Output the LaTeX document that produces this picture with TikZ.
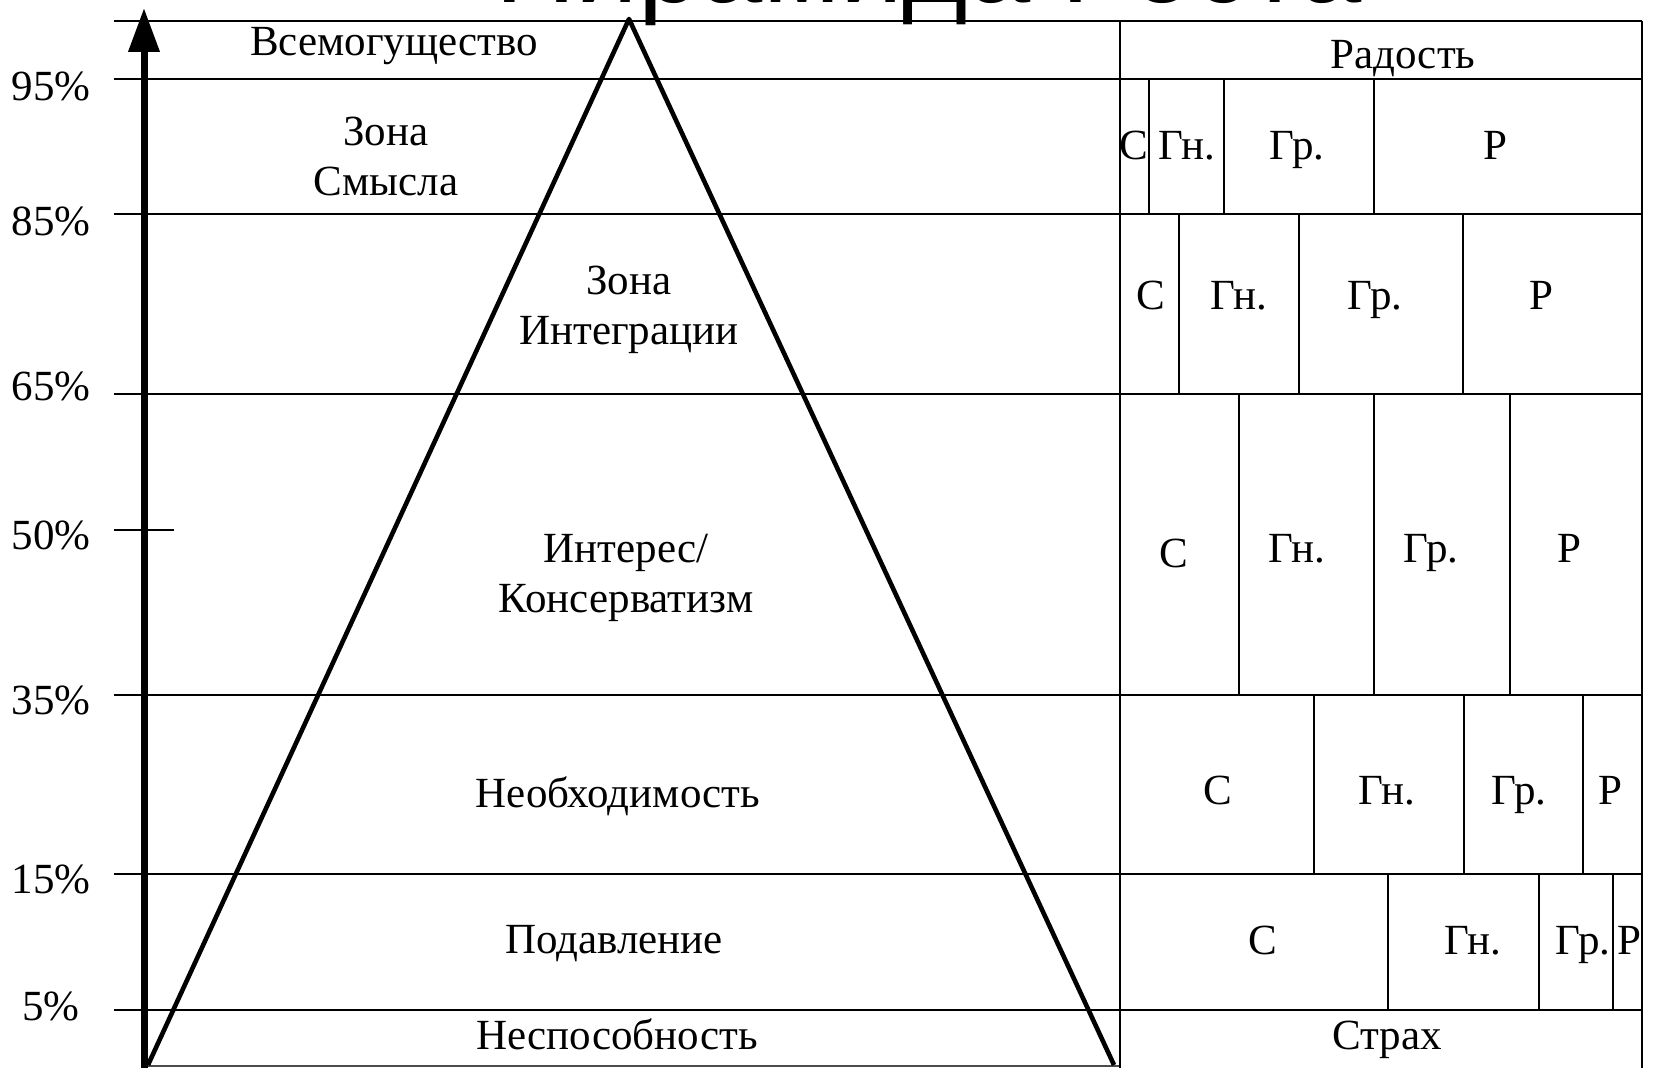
\documentclass[tikz,border=0pt]{standalone}
\usepackage{fontspec}
\setmainfont{Liberation Serif}
\newfontfamily\headfont{Liberation Sans}
\usetikzlibrary{arrows.meta}

\begin{document}
\begin{tikzpicture}[
            x=0.5pt, y=-0.5pt,
            level/.style={
                line width=1pt
            },
            divider/.style={
                line width=1pt
            },
            zone/.style={
                align=center,
                inner sep=0pt,
                font=\fontsize{21.5}{25}\selectfont
            },
            pct/.style={
                inner sep=0pt,
                font=\fontsize{21.5}{25}\selectfont
            },
            cell/.style={
                inner sep=0pt,
                text height=0.66em,
                text depth=0.22em,
                font=\fontsize{21.5}{25}\selectfont
            },
            pyramid/.style={line width=2.3pt, line join=round},
            axis/.style={line width=3.5pt, -{Triangle[length=22pt,width=15pt]}},
            heading/.style={
                anchor=base west,
                inner sep=0pt,
                font=\headfont\fontsize{56}{60}\selectfont
            }
        ]
        \useasboundingbox (0,0) rectangle (1653,1068);

        % Title, cut off by the top edge
        \node[heading] (title) at (495,3) {Пирамида Роста};

        % Level lines
        \draw[level] (114,21) -- (1642,21);
        \draw[level] (114,79) -- (1642,79);
        \draw[level] (114,214) -- (1642,214);
        \draw[level] (114,394) -- (1642,394);
        \draw[level] (114,530) -- (174,530); % short tick at 50%
        \draw[level] (114,695) -- (1642,695);
        \draw[level] (114,874) -- (1642,874);
        \draw[level] (114,1010) -- (1642,1010);
        \draw[level, black!70] (144,1066) -- (1120,1066);

        % Percent labels
        \node[pct] (p95) at (51,86) {95\%};
        \node[pct] (p85) at (51,221) {85\%};
        \node[pct] (p65) at (51,386) {65\%};
        \node[pct] (p50) at (51,535) {50\%};
        \node[pct] (p35) at (51,700) {35\%};
        \node[pct] (p15) at (51,879) {15\%};
        \node[pct] (p5) at (51,1006) {5\%};

        % Axis arrow and pyramid
        \draw[axis] (144,1068) -- (144,8);
        \draw[pyramid] (148,1065) -- (629,19) -- (1114,1065);

        % Zones
        \node[zone] (z1) at (394,46) {Всемогущество};
        \node[zone] (z2) at (386,156) {Зона\\Смысла};
        \node[zone] (z3) at (629,310) {Зона\\Интеграции};
        \node[zone] (z4) at (626,578) {Интерес/\\Консерватизм};
        \node[zone] (z5) at (618,796) {Необходимость};
        \node[zone] (z6) at (614,944) {Подавление};
        \node[zone] (z7) at (617,1034) {Неспособность};

        % Emotion table: outer sides
        \draw[divider] (1120,21) -- (1120,1068);
        \draw[divider] (1642,21) -- (1642,1068);
        \node[cell] (joy) at (1403,64) {Радость};
        \node[cell] (fear) at (1387,1045) {Страх};

        % Row 95-85
        \draw[divider] (1149,79) -- (1149,214);
        \draw[divider] (1224,79) -- (1224,214);
        \draw[divider] (1374,79) -- (1374,214);
        \node[cell] (c11) at (1134,155) {С};
        \node[cell] (c12) at (1187,155) {Гн.};
        \node[cell] (c13) at (1297,155) {Гр.};
        \node[cell] (c14) at (1495,155) {Р};

        % Row 85-65
        \draw[divider] (1179,214) -- (1179,394);
        \draw[divider] (1299,214) -- (1299,394);
        \draw[divider] (1463,214) -- (1463,394);
        \node[cell] (c21) at (1151,305) {С};
        \node[cell] (c22) at (1239,305) {Гн.};
        \node[cell] (c23) at (1375,305) {Гр.};
        \node[cell] (c24) at (1541,305) {Р};

        % Row 65-35
        \draw[divider] (1239,394) -- (1239,695);
        \draw[divider] (1374,394) -- (1374,695);
        \draw[divider] (1510,394) -- (1510,695);
        \node[cell] (c31) at (1174,563) {С};
        \node[cell] (c32) at (1297,558) {Гн.};
        \node[cell] (c33) at (1431,558) {Гр.};
        \node[cell] (c34) at (1569,558) {Р};

        % Row 35-15
        \draw[divider] (1314,695) -- (1314,874);
        \draw[divider] (1464,695) -- (1464,874);
        \draw[divider] (1583,695) -- (1583,874);
        \node[cell] (c41) at (1218,800) {С};
        \node[cell] (c42) at (1387,800) {Гн.};
        \node[cell] (c43) at (1519,800) {Гр.};
        \node[cell] (c44) at (1610,800) {Р};

        % Row 15-5
        \draw[divider] (1388,874) -- (1388,1010);
        \draw[divider] (1539,874) -- (1539,1010);
        \draw[divider] (1613,874) -- (1613,1010);
        \node[cell] (c51) at (1263,950) {С};
        \node[cell] (c52) at (1473,950) {Гн.};
        \node[cell] (c53) at (1583,950) {Гр.};
        \node[cell] (c54) at (1629,950) {Р};

        \end{tikzpicture}
\end{document}
